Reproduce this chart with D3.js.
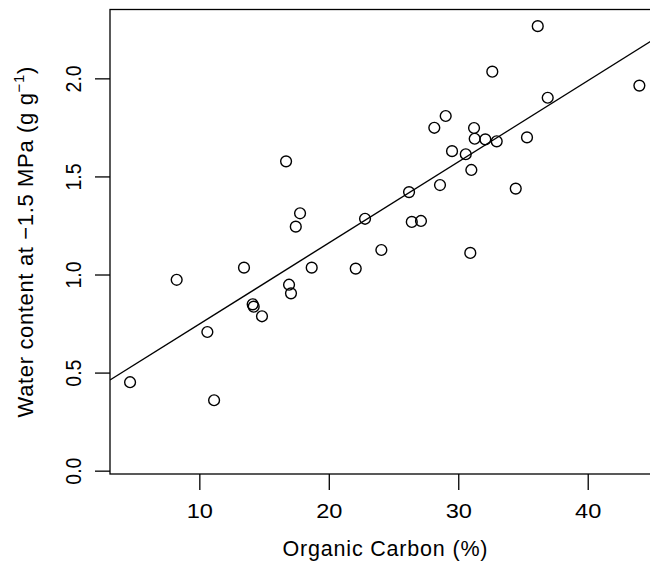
<!DOCTYPE html>
<html>
<head>
<meta charset="utf-8">
<script src="https://cdn.jsdelivr.net/npm/d3@7"></script>
<style>
  body { margin: 0; background: #fff; }
  svg { display: block; }
  text { font-family: "Liberation Sans", Arial, Helvetica, sans-serif; fill: #000; }
</style>
</head>
<body>
<div id="chart"></div>
<script>
// organic carbon (%) and water content at -1.5 MPa (g/g)
var carbon = [4.65, 8.25, 10.62, 11.14, 13.45, 14.12, 14.20, 14.84, 16.70, 16.93,
              17.08, 17.45, 17.78, 18.68, 22.08, 22.80, 24.06, 26.20, 26.41, 27.12,
              28.15, 28.59, 29.03, 29.52, 30.58, 30.93, 31.01, 31.22, 31.27, 32.09,
              32.63, 32.97, 34.44, 35.31, 36.14, 36.91, 43.99];
var water = [0.451, 0.973, 0.707, 0.359, 1.035, 0.848, 0.836, 0.787, 1.577, 0.948,
             0.904, 1.244, 1.312, 1.035, 1.030, 1.284, 1.125, 1.420, 1.268, 1.273,
             1.748, 1.456, 1.808, 1.629, 1.613, 1.110, 1.533, 1.747, 1.692, 1.689,
             2.034, 1.679, 1.438, 1.699, 2.266, 1.901, 1.963];
var fitIntercept = 0.334,
    fitSlope = 0.04134;
var xTicks = [10, 20, 30, 40],
    yTicks = [0, 0.5, 1, 1.5, 2];

var width = 650, height = 563;
var plot = { left: 110, right: 659.7, top: 9.5, bottom: 474 };

var x = d3.scaleLinear().domain([3.10, 45.56]).range([plot.left, plot.right]);
var y = d3.scaleLinear().domain([-0.017, 2.351]).range([plot.bottom, plot.top]);

var svg = d3.select("#chart").append("svg")
    .attr("width", width)
    .attr("height", height);

// y axis, labels turned like R does
var yAxis = svg.append("g")
    .attr("transform", "translate(" + plot.left + ",0)")
    .call(d3.axisLeft(y).tickValues(yTicks).tickSize(15).tickSizeOuter(0)
        .tickFormat(d3.format(".1f")));
yAxis.select(".domain").remove();
yAxis.selectAll(".tick line").attr("stroke", "#000").attr("stroke-width", 1.3);
yAxis.selectAll(".tick text")
    .attr("x", null).attr("dy", null)
    .attr("transform", "translate(-29,0) scale(1.15,1) rotate(-90)")
    .attr("text-anchor", "middle")
    .style("font-size", "19.5px")
    .style("font-family", "Liberation Sans, Arial, sans-serif");

var xAxis = svg.append("g")
    .attr("transform", "translate(0," + plot.bottom + ")")
    .call(d3.axisBottom(x).tickValues(xTicks).tickSize(16).tickSizeOuter(0));
xAxis.select(".domain").remove();
xAxis.selectAll(".tick line").attr("stroke", "#000").attr("stroke-width", 1.3);
xAxis.selectAll(".tick text")
    .attr("y", 0).attr("dy", null)
    .attr("transform", "translate(0,43.5) scale(1.18,1)")
    .style("font-size", "20px")
    .style("font-family", "Liberation Sans, Arial, sans-serif");

// box
svg.append("rect")
    .attr("x", plot.left)
    .attr("y", plot.top)
    .attr("width", plot.right - plot.left)
    .attr("height", plot.bottom - plot.top)
    .attr("fill", "none")
    .attr("stroke", "#000")
    .attr("stroke-width", 1.3);

// fitted line, clipped to the box
svg.append("clipPath").attr("id", "clip")
    .append("rect")
    .attr("x", plot.left).attr("y", plot.top)
    .attr("width", plot.right - plot.left).attr("height", plot.bottom - plot.top);

var xd = x.domain();
svg.append("line")
    .attr("clip-path", "url(#clip)")
    .attr("x1", x(xd[0])).attr("y1", y(fitIntercept + fitSlope * xd[0]))
    .attr("x2", x(xd[1])).attr("y2", y(fitIntercept + fitSlope * xd[1]))
    .attr("stroke", "#000")
    .attr("stroke-width", 1.4);

svg.append("g").selectAll("circle")
    .data(carbon)
    .enter().append("circle")
    .attr("cx", function(d) { return x(d); })
    .attr("cy", function(d, i) { return y(water[i]); })
    .attr("r", 5.4)
    .attr("fill", "none")
    .attr("stroke", "#000")
    .attr("stroke-width", 1.4);

// axis titles
svg.append("text")
    .attr("x", 385)
    .attr("y", 556)
    .attr("text-anchor", "middle")
    .attr("textLength", 205)
    .style("font-size", "21.5px")
    .text("Organic Carbon (%)");

var ytitle = svg.append("text")
    .attr("transform", "translate(33," + ((plot.top + plot.bottom) / 2) + ") rotate(-90)")
    .attr("text-anchor", "middle")
    .style("font-size", "22px")
    .style("letter-spacing", "0.65px");
ytitle.append("tspan").text("Water content at \u22121.5 MPa (g g");
ytitle.append("tspan").attr("dy", -9).style("font-size", "15px").text("\u22121");
ytitle.append("tspan").attr("dy", 9).text(")");
</script>
</body>
</html>
